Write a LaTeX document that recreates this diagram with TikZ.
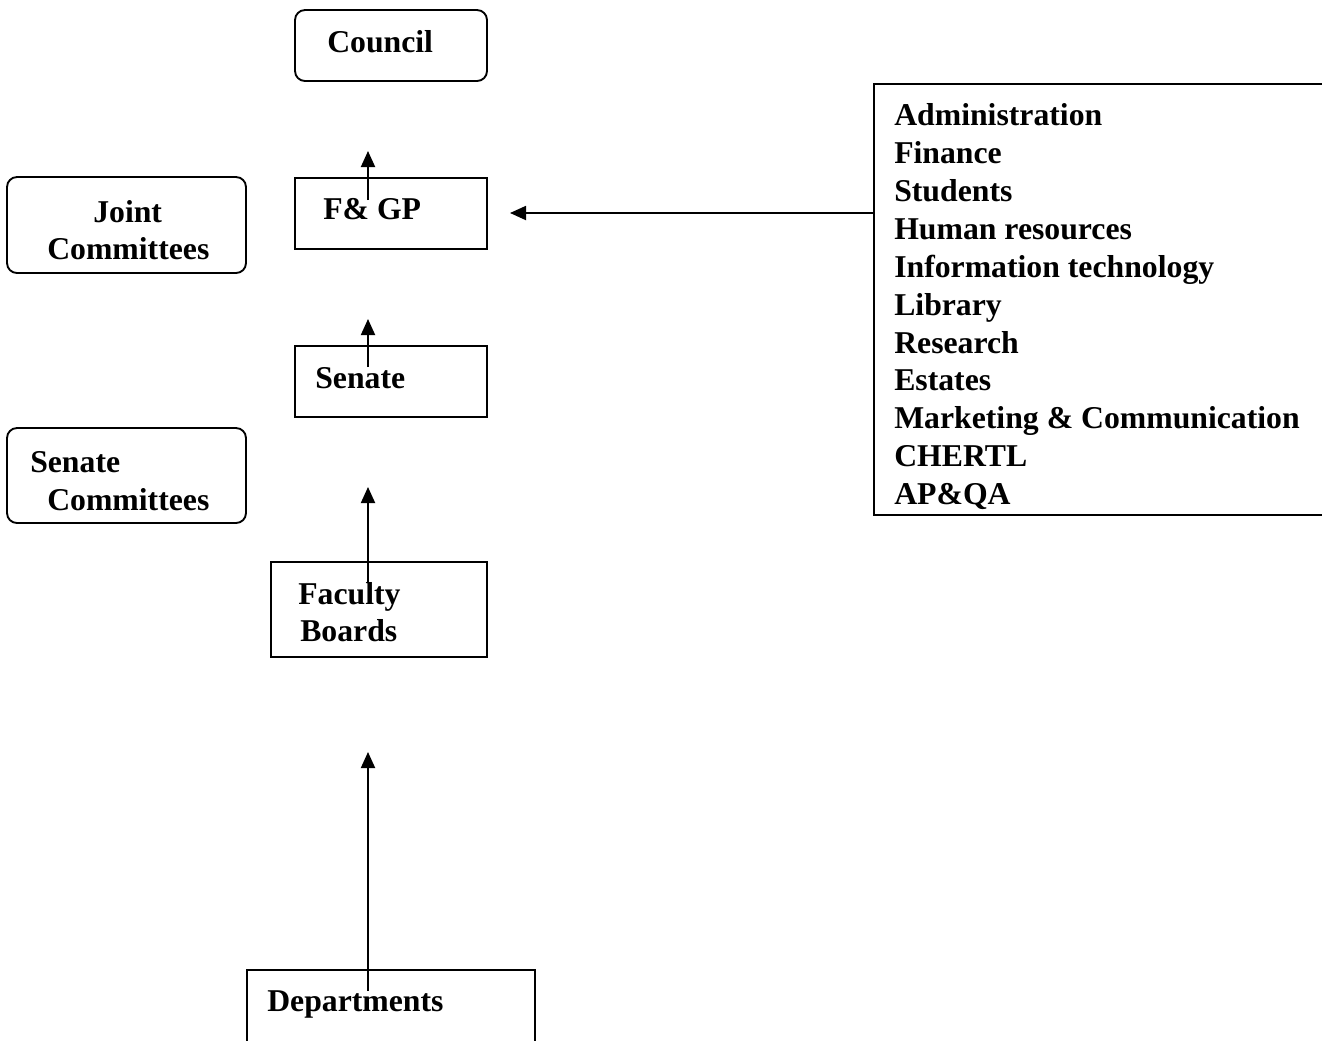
\documentclass[tikz,border=0pt]{standalone}
\usepackage{fontspec}
\setmainfont{Liberation Serif}
\usetikzlibrary{arrows.meta}
\begin{document}
\begin{tikzpicture}[x=0.75pt,y=-0.75pt,
  box/.style={draw,line width=1.4pt,inner sep=0pt},
  rbox/.style={box,rounded corners=7.5pt},
  lbl/.style={anchor=base west,inner sep=0pt,font=\fontsize{23.8}{28.4}\selectfont\bfseries},
  up/.style={line width=1.4pt,-{Triangle[length=12pt,width=10.5pt]}}]
\useasboundingbox (0,0) rectangle (1322,1040);
\clip (0,0) rectangle (1322,1040);
% boxes
\node[rbox,minimum width=192*0.75pt,minimum height=71*0.75pt] (council) at (391,45.5) {};
\node[box,minimum width=192*0.75pt,minimum height=71*0.75pt] (fgp) at (391,213.5) {};
\node[rbox,minimum width=239*0.75pt,minimum height=96*0.75pt] (joint) at (126.5,225) {};
\node[box,minimum width=192*0.75pt,minimum height=71*0.75pt] (senate) at (391,381.5) {};
\node[rbox,minimum width=239*0.75pt,minimum height=95*0.75pt] (scomm) at (126.5,475.5) {};
\node[box,minimum width=216*0.75pt,minimum height=95*0.75pt] (faculty) at (379,609.5) {};
\node[box,minimum width=288*0.75pt,minimum height=100*0.75pt] (dept) at (391,1020) {};
\node[box,minimum width=470*0.75pt,minimum height=431*0.75pt] (units) at (1109,299.5) {};
% labels
\node[lbl] (tcouncil) at (327,52) {Council};
\node[lbl] (tfgp) at (323,219) {F\& GP};
\node[lbl] (tjoint) at (93,222) {Joint};
\node[lbl] (tjoint2) at (47,259) {Committees};
\node[lbl] (tsenate) at (315,388) {Senate};
\node[lbl] (tscomm) at (30,472) {Senate};
\node[lbl] (tscomm2) at (47,510) {Committees};
\node[lbl] (tfac) at (298,604) {Faculty};
\node[lbl] (tfac2) at (300,641) {Boards};
\node[lbl] (tdept) at (267,1011) {Departments};
\node[lbl] (u1) at (894,125) {Administration};
\node[lbl] (u2) at (894,163) {Finance};
\node[lbl] (u3) at (894,201) {Students};
\node[lbl] (u4) at (894,239) {Human resources};
\node[lbl] (u5) at (894,277) {Information technology};
\node[lbl] (u6) at (894,315) {Library};
\node[lbl] (u7) at (894,353) {Research};
\node[lbl] (u8) at (894,390) {Estates};
\node[lbl] (u9) at (894,428) {Marketing \& Communication};
\node[lbl] (u10) at (894,466) {CHERTL};
\node[lbl] (u11) at (894,504) {AP\&QA};
% arrow endpoints
\coordinate (a1s) at (368,200);
\coordinate (a1e) at (368,151);
\coordinate (a2s) at (368,367);
\coordinate (a2e) at (368,319);
\coordinate (a3s) at (368,583);
\coordinate (a3e) at (368,487);
\coordinate (a4s) at (368,991);
\coordinate (a4e) at (368,752);
\coordinate (a5s) at (units.west |- 0,213);
\coordinate (a5e) at (510,213);
\draw[up] (a1s) -- (a1e);
\draw[up] (a2s) -- (a2e);
\draw[up] (a3s) -- (a3e);
\draw[up] (a4s) -- (a4e);
\draw[up] (a5s) -- (a5e);
\end{tikzpicture}
\end{document}
